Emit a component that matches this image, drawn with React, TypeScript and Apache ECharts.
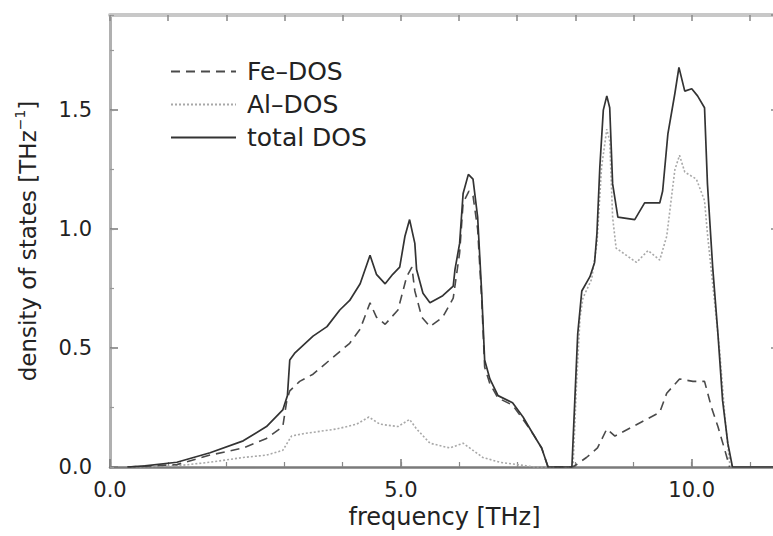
import React, { useEffect, useRef } from 'react';
import * as echarts from 'echarts';

// frequency [THz], density of states [THz^-1]
const totalDOS: number[][] = [
  [0.3, 0], [0.6, 0.005], [1.15, 0.02], [1.72, 0.06], [2.29, 0.11], [2.69, 0.17], [2.97, 0.24],
  [3.05, 0.3], [3.09, 0.45], [3.18, 0.48], [3.49, 0.55], [3.73, 0.59], [3.95, 0.66], [4.12, 0.7],
  [4.3, 0.77], [4.47, 0.89], [4.58, 0.81], [4.73, 0.77], [4.86, 0.81], [4.98, 0.84], [5.07, 0.97],
  [5.15, 1.04], [5.24, 0.94], [5.27, 0.83], [5.38, 0.73], [5.5, 0.69], [5.72, 0.72], [5.9, 0.76],
  [5.93, 0.83], [6.01, 0.94], [6.07, 1.15], [6.16, 1.23], [6.24, 1.21], [6.32, 1.05], [6.39, 0.73],
  [6.44, 0.45], [6.53, 0.37], [6.67, 0.3], [6.92, 0.27], [7.1, 0.21], [7.27, 0.14], [7.42, 0.08],
  [7.53, 0], [7.94, 0], [7.99, 0.28], [8.04, 0.56], [8.11, 0.74], [8.25, 0.8], [8.33, 0.86],
  [8.37, 0.98], [8.42, 1.26], [8.48, 1.5], [8.54, 1.56], [8.59, 1.51], [8.64, 1.19], [8.73, 1.05],
  [9.02, 1.04], [9.19, 1.11], [9.45, 1.11], [9.5, 1.16], [9.59, 1.4], [9.71, 1.57], [9.78, 1.68],
  [9.88, 1.58], [10.0, 1.59], [10.1, 1.56], [10.22, 1.51], [10.27, 1.19], [10.36, 0.84],
  [10.45, 0.56], [10.53, 0.28], [10.62, 0.1], [10.7, 0], [11.5, 0],
];

const feDOS: number[][] = [
  [0.3, 0], [1.15, 0.01], [1.72, 0.05], [2.29, 0.08], [2.69, 0.12], [2.97, 0.17], [3.04, 0.28],
  [3.09, 0.32], [3.26, 0.36], [3.49, 0.39], [3.78, 0.45], [4.12, 0.52], [4.3, 0.58], [4.47, 0.69],
  [4.58, 0.63], [4.73, 0.6], [4.95, 0.66], [5.1, 0.8], [5.19, 0.84], [5.24, 0.74], [5.36, 0.63],
  [5.5, 0.59], [5.72, 0.63], [5.9, 0.71], [6.01, 0.9], [6.07, 1.11], [6.17, 1.16], [6.24, 1.14],
  [6.32, 1.0], [6.39, 0.7], [6.44, 0.42], [6.53, 0.35], [6.67, 0.29], [6.92, 0.26], [7.1, 0.2],
  [7.27, 0.14], [7.42, 0.08], [7.53, 0], [7.96, 0], [8.19, 0.04], [8.38, 0.08], [8.54, 0.16],
  [8.68, 0.13], [8.99, 0.17], [9.45, 0.23], [9.57, 0.31], [9.79, 0.37], [10.02, 0.36],
  [10.22, 0.36], [10.34, 0.25], [10.45, 0.17], [10.57, 0.07], [10.65, 0],
];

const alDOS: number[][] = [
  [0.3, 0], [1.15, 0.005], [1.72, 0.02], [2.29, 0.04], [2.69, 0.05], [2.97, 0.07], [3.12, 0.13],
  [3.32, 0.14], [3.9, 0.16], [4.24, 0.18], [4.45, 0.21], [4.64, 0.18], [4.95, 0.17], [5.15, 0.2],
  [5.27, 0.16], [5.5, 0.1], [5.84, 0.08], [6.07, 0.1], [6.24, 0.07], [6.41, 0.04], [6.7, 0.02],
  [7.0, 0.01], [7.3, 0], [7.96, 0], [8.02, 0.35], [8.08, 0.63], [8.13, 0.71], [8.28, 0.79],
  [8.37, 0.94], [8.45, 1.26], [8.54, 1.42], [8.59, 1.37], [8.64, 1.05], [8.7, 0.92], [9.05, 0.86],
  [9.25, 0.91], [9.45, 0.87], [9.57, 0.97], [9.71, 1.25], [9.79, 1.31], [9.88, 1.24], [10.08, 1.21],
  [10.22, 1.12], [10.27, 0.98], [10.36, 0.77], [10.48, 0.49], [10.57, 0.21], [10.65, 0.02], [10.7, 0],
];

const seriesNames = ['Fe–DOS', 'Al–DOS', 'total DOS'];
const xName = 'frequency [THz]';
const yName = 'density of states [THz{sup|−1}]';
const xRange = [0, 11.5];
const yRange = [0, 1.9];

const FONT = '"DejaVu Sans", sans-serif';
const TEXT = '#222';

export default function App() {
  const ref = useRef<HTMLDivElement>(null);
  useEffect(() => {
    const chart = echarts.init(ref.current!, null, { renderer: 'svg' });
    const fmt = (v: number) => v.toFixed(1);
    const option: any = {
      animation: false,
      backgroundColor: '#fff',
      grid: { left: 110, top: 15, right: 0, bottom: 69, containLabel: false },
      legend: {
        orient: 'vertical',
        left: 165,
        top: 54,
        itemWidth: 65,
        itemHeight: 14,
        itemGap: 8,
        data: seriesNames,
        itemStyle: { opacity: 0 },
        textStyle: { fontSize: 25, lineHeight: 25, color: TEXT, fontFamily: FONT, padding: [0, 0, 0, 6] },
      },
      xAxis: [
        {
          type: 'value', position: 'bottom', min: xRange[0], max: xRange[1], interval: 5,
          axisLine: { onZero: false, lineStyle: { color: '#7a7a7a', width: 2.5 } },
          axisTick: { inside: true, length: 8, lineStyle: { color: '#777', width: 1.5 } },
          axisLabel: { fontSize: 21, color: TEXT, fontFamily: FONT, margin: 12, formatter: fmt, showMaxLabel: false },
          splitLine: { show: false },
          name: xName, nameLocation: 'middle', nameGap: 38,
          nameTextStyle: { fontSize: 24, color: TEXT, fontFamily: FONT },
        },
        {
          type: 'value', position: 'bottom', min: xRange[0], max: xRange[1], interval: 1,
          axisLine: { show: false, onZero: false },
          axisTick: { inside: true, length: 5, lineStyle: { color: '#888', width: 1.2 } },
          axisLabel: { show: false }, splitLine: { show: false },
        },
        {
          type: 'value', position: 'top', min: xRange[0], max: xRange[1], interval: 1,
          axisLine: { onZero: false, lineStyle: { color: '#c8c8c8', width: 4 } },
          axisTick: { inside: true, length: 6, lineStyle: { color: '#888', width: 1.5 } },
          axisLabel: { show: false }, splitLine: { show: false },
        },
      ],
      yAxis: [
        {
          type: 'value', position: 'left', min: yRange[0], max: yRange[1], interval: 0.5,
          axisLine: { show: true, onZero: false, lineStyle: { color: '#b0b0b0', width: 3 } },
          axisTick: { show: true, inside: true, length: 8, lineStyle: { color: '#777', width: 1.5 } },
          axisLabel: { fontSize: 21, color: TEXT, fontFamily: FONT, margin: 18, formatter: fmt, showMaxLabel: false },
          splitLine: { show: false },
          name: yName, nameLocation: 'middle', nameGap: 67,
          nameTextStyle: {
            fontSize: 23, color: TEXT, fontFamily: FONT, lineHeight: 30,
            rich: { sup: { fontSize: 14, color: TEXT, fontFamily: FONT, verticalAlign: 'top' } },
          },
        },
        {
          type: 'value', position: 'left', min: yRange[0], max: yRange[1], interval: 0.25,
          axisLine: { show: false, onZero: false },
          axisTick: { show: true, inside: true, length: 4, lineStyle: { color: '#999', width: 1.2 } },
          axisLabel: { show: false }, splitLine: { show: false },
        },
        {
          type: 'value', position: 'right', min: yRange[0], max: yRange[1], interval: 0.5,
          axisLine: { show: true, onZero: false, lineStyle: { color: '#b0b0b0', width: 3 } },
          axisTick: { show: true, inside: true, length: 8, lineStyle: { color: '#888', width: 1.5 } },
          axisLabel: { show: false }, splitLine: { show: false },
        },
      ],
      series: [
        {
          name: seriesNames[1], type: 'line', data: alDOS, symbol: 'none', showSymbol: false,
          xAxisIndex: 0, yAxisIndex: 0, z: 2,
          lineStyle: { color: '#a8a8a8', width: 1.6, type: [2, 2] },
          itemStyle: { color: '#a8a8a8' },
        },
        {
          name: seriesNames[0], type: 'line', data: feDOS, symbol: 'none', showSymbol: false,
          xAxisIndex: 0, yAxisIndex: 0, z: 3,
          lineStyle: { color: '#4a4a4a', width: 1.6, type: [9, 6] },
          itemStyle: { color: '#4a4a4a' },
        },
        {
          name: seriesNames[2], type: 'line', data: totalDOS, symbol: 'none', showSymbol: false,
          xAxisIndex: 0, yAxisIndex: 0, z: 4,
          lineStyle: { color: '#333', width: 1.7, type: 'solid' },
          itemStyle: { color: '#333' },
        },
      ],
    };
    chart.setOption(option);
    return () => chart.dispose();
  }, []);
  return (
    <div style={{ position: 'fixed', left: 0, top: 0, width: 773, height: 536, overflow: 'hidden', background: '#fff' }}>
      <div ref={ref} style={{ width: 779, height: 536 }} />
    </div>
  );
}
